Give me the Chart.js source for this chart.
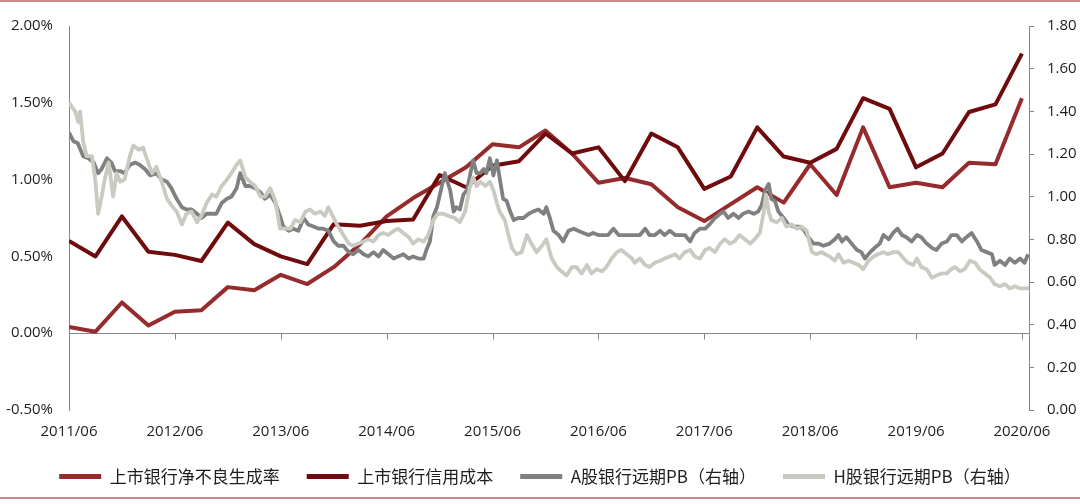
<!DOCTYPE html>
<html>
<head>
<meta charset="utf-8">
<script src="https://cdn.jsdelivr.net/npm/chart.js@4/dist/chart.umd.min.js"></script>
<style>
  html, body { margin: 0; padding: 0; background: #fff; }
</style>
</head>
<body>
<canvas id="chart" width="1080" height="504"></canvas>
<script>
"use strict";

// x axis is "months since 2011/06"
const TICK_MONTHS = [0, 12, 24, 36, 48, 60, 72, 84, 96, 108];
const TICK_LABELS = ["2011/06", "2012/06", "2013/06", "2014/06", "2015/06",
                     "2016/06", "2017/06", "2018/06", "2019/06", "2020/06"];

// quarterly bank series (%)
const Q_MONTHS = [0, 3, 6, 9, 12, 15, 18, 21, 24, 27, 30, 33, 36, 39, 42, 45, 48, 51, 54,
                  57, 60, 63, 66, 69, 72, 75, 78, 81, 84, 87, 90, 93, 96, 99, 102, 105, 108];
const NPL_RATE = [0.04, 0.01, 0.20, 0.05, 0.14, 0.15, 0.30, 0.28, 0.38, 0.32, 0.43, 0.58, 0.76,
                  0.88, 0.98, 1.08, 1.23, 1.21, 1.32, 1.17, 0.98, 1.01, 0.97, 0.82, 0.73, 0.84,
                  0.95, 0.85, 1.10, 0.90, 1.34, 0.95, 0.98, 0.95, 1.11, 1.10, 1.53];
const CREDIT_COST = [0.60, 0.50, 0.76, 0.53, 0.51, 0.47, 0.72, 0.58, 0.50, 0.45, 0.71, 0.70, 0.73,
                     0.74, 1.03, 0.95, 1.09, 1.12, 1.30, 1.17, 1.21, 0.99, 1.30, 1.21, 0.94, 1.02,
                     1.34, 1.15, 1.11, 1.20, 1.53, 1.46, 1.08, 1.17, 1.44, 1.49, 1.82];

// forward PB, [month, value] (right axis)
const A_PB = [[0,1.30],[0.5,1.26],[1.0,1.25],[1.6,1.19],[2.2,1.18],[2.8,1.16],[3.3,1.11],[3.7,1.13],
  [4.3,1.18],[4.8,1.16],[5.2,1.12],[5.8,1.12],[6.3,1.11],[6.9,1.15],[7.5,1.16],[8.0,1.15],[8.6,1.13],
  [9.2,1.10],[9.9,1.11],[10.5,1.08],[11.1,1.07],[11.6,1.04],[12.2,0.99],[12.8,0.95],[13.3,0.94],
  [13.9,0.94],[14.5,0.92],[15.0,0.90],[15.6,0.92],[16.2,0.92],[16.7,0.92],[17.3,0.97],[17.9,0.99],
  [18.4,1.00],[19.0,1.04],[19.4,1.11],[20.0,1.05],[20.5,1.05],[21.1,1.04],[21.7,1.02],[22.2,0.99],
  [22.8,1.01],[23.4,0.97],[23.9,0.91],[24.3,0.86],[24.9,0.84],[25.4,0.85],[26.0,0.84],[26.6,0.90],
  [27.1,0.87],[27.7,0.86],[28.3,0.85],[28.8,0.85],[29.4,0.84],[30.0,0.79],[30.5,0.77],[31.1,0.77],
  [31.7,0.74],[32.2,0.73],[32.8,0.75],[33.4,0.73],[33.9,0.72],[34.5,0.74],[35.1,0.72],[35.6,0.75],
  [36.2,0.73],[36.8,0.71],[37.3,0.72],[37.9,0.73],[38.5,0.71],[39.0,0.72],[39.6,0.71],[40.2,0.71],
  [40.5,0.75],[40.9,0.79],[41.3,0.91],[41.7,0.95],[42.2,1.04],[42.6,1.11],[43.2,1.03],[43.6,0.93],
  [43.9,0.95],[44.3,0.94],[44.7,1.01],[45.1,1.03],[45.4,1.09],[45.8,1.17],[46.2,1.11],[46.6,1.11],
  [47.0,1.13],[47.3,1.11],[47.7,1.18],[48.1,1.10],[48.5,1.17],[48.8,1.09],[49.2,0.99],[49.6,0.98],
  [50.0,0.93],[50.4,0.89],[50.9,0.90],[51.5,0.90],[52.1,0.92],[52.6,0.93],[53.2,0.94],[53.8,0.92],
  [54.1,0.95],[54.5,0.90],[54.9,0.84],[55.5,0.82],[56.0,0.79],[56.6,0.84],[57.2,0.85],[57.7,0.84],
  [58.3,0.83],[58.9,0.82],[59.4,0.83],[60.0,0.82],[60.6,0.82],[61.1,0.82],[61.7,0.85],[62.3,0.82],
  [62.8,0.82],[63.4,0.82],[64.1,0.82],[64.7,0.82],[65.3,0.85],[65.8,0.82],[66.4,0.82],[67.0,0.84],
  [67.5,0.82],[68.1,0.84],[68.7,0.82],[69.2,0.82],[69.8,0.82],[70.4,0.79],[70.9,0.83],[71.5,0.85],
  [72.1,0.85],[72.6,0.87],[73.2,0.90],[73.8,0.92],[74.2,0.93],[74.7,0.90],[75.3,0.92],[75.9,0.90],
  [76.4,0.92],[77.0,0.93],[77.6,0.92],[78.1,0.93],[78.5,0.96],[78.9,1.03],[79.3,1.06],[79.6,0.99],
  [80.0,0.98],[80.4,0.93],[81.0,0.90],[81.5,0.87],[82.1,0.86],[82.7,0.86],[83.2,0.85],[83.8,0.81],
  [84.4,0.78],[84.9,0.78],[85.5,0.77],[86.2,0.78],[86.8,0.80],[87.2,0.82],[87.6,0.79],[88.1,0.81],
  [88.7,0.78],[89.3,0.75],[89.8,0.74],[90.2,0.71],[90.8,0.74],[91.3,0.76],[91.9,0.78],[92.3,0.82],
  [92.9,0.80],[93.4,0.83],[93.9,0.85],[94.4,0.82],[94.9,0.81],[95.5,0.79],[96.1,0.82],[96.6,0.81],
  [97.2,0.78],[97.8,0.76],[98.3,0.75],[98.9,0.78],[99.5,0.79],[100.0,0.82],[100.6,0.82],[101.2,0.79],
  [101.7,0.81],[102.3,0.83],[102.9,0.79],[103.4,0.75],[104.0,0.74],[104.6,0.73],[104.9,0.68],
  [105.5,0.70],[106.1,0.68],[106.6,0.71],[107.2,0.69],[107.8,0.71],[108.3,0.69],[108.7,0.73]];

const H_PB = [[0,1.44],[0.7,1.40],[1.05,1.35],[1.25,1.40],[1.6,1.26],[2.0,1.19],[2.6,1.19],[3.0,1.07],
  [3.3,0.92],[3.7,1.00],[4.1,1.09],[4.5,1.16],[5.0,1.00],[5.4,1.11],[5.8,1.07],[6.3,1.08],[6.9,1.19],
  [7.3,1.24],[7.9,1.22],[8.4,1.23],[8.8,1.18],[9.4,1.11],[9.9,1.14],[10.5,1.07],[11.1,0.99],[11.6,0.96],
  [12.2,0.93],[12.8,0.87],[13.3,0.92],[13.9,0.93],[14.5,0.88],[15.0,0.91],[15.6,0.97],[16.2,1.01],
  [16.7,1.00],[17.3,1.05],[17.9,1.08],[18.4,1.11],[19.0,1.15],[19.4,1.17],[20.0,1.09],[20.5,1.07],
  [21.1,1.05],[21.7,1.00],[22.2,1.00],[22.8,1.04],[23.4,0.98],[23.9,0.85],[24.5,0.85],[25.1,0.85],
  [25.6,0.89],[26.2,0.88],[26.8,0.93],[27.3,0.94],[27.9,0.92],[28.5,0.93],[29.0,0.91],[29.4,0.95],
  [30.0,0.90],[30.5,0.86],[31.1,0.82],[31.7,0.78],[32.2,0.77],[32.8,0.78],[33.4,0.79],[33.9,0.80],
  [34.5,0.79],[35.1,0.82],[35.6,0.83],[36.2,0.82],[36.8,0.84],[37.3,0.85],[37.9,0.83],[38.5,0.81],
  [39.0,0.78],[39.6,0.80],[40.2,0.79],[40.7,0.82],[41.3,0.89],[41.8,0.92],[42.4,0.92],[43.0,0.91],
  [43.7,0.90],[44.3,0.88],[44.9,0.93],[45.4,1.04],[45.8,1.09],[46.2,1.05],[46.6,1.07],[47.2,1.05],
  [47.7,1.07],[48.1,1.03],[48.5,0.97],[48.8,0.93],[49.4,0.89],[49.8,0.82],[50.2,0.76],[50.7,0.73],
  [51.3,0.74],[51.9,0.82],[52.4,0.78],[53.0,0.74],[53.6,0.77],[54.1,0.80],[54.7,0.71],[55.3,0.67],
  [55.8,0.65],[56.4,0.63],[57.0,0.67],[57.5,0.67],[58.1,0.64],[58.7,0.68],[59.2,0.64],[59.8,0.66],
  [60.4,0.65],[60.9,0.67],[61.5,0.71],[62.1,0.74],[62.6,0.75],[63.2,0.73],[63.8,0.71],[64.1,0.69],
  [64.7,0.71],[65.3,0.68],[65.8,0.67],[66.4,0.69],[67.0,0.70],[67.5,0.71],[68.1,0.72],[68.7,0.73],
  [69.2,0.71],[69.8,0.74],[70.4,0.75],[70.9,0.72],[71.5,0.71],[72.1,0.75],[72.6,0.76],[73.2,0.74],
  [73.8,0.78],[74.3,0.80],[74.9,0.78],[75.4,0.79],[76.0,0.82],[76.6,0.80],[77.2,0.78],[77.7,0.80],
  [78.3,0.83],[78.7,0.92],[79.0,1.01],[79.3,0.93],[79.6,0.89],[80.2,0.88],[80.8,0.90],[81.3,0.86],
  [81.9,0.87],[82.5,0.85],[83.0,0.86],[83.6,0.84],[84.2,0.74],[84.7,0.73],[85.3,0.74],[85.7,0.73],
  [86.2,0.72],[86.8,0.70],[87.2,0.73],[87.8,0.69],[88.3,0.70],[88.9,0.69],[89.5,0.68],[90.0,0.66],
  [90.6,0.70],[91.2,0.72],[91.7,0.73],[92.3,0.74],[92.8,0.73],[93.4,0.74],[94.0,0.74],[94.6,0.71],
  [95.1,0.69],[95.7,0.68],[96.1,0.71],[96.6,0.67],[97.2,0.66],[97.8,0.62],[98.3,0.63],[98.9,0.64],
  [99.5,0.64],[100.0,0.66],[100.4,0.67],[101.0,0.65],[101.5,0.66],[102.1,0.70],[102.7,0.69],
  [103.2,0.66],[103.8,0.64],[104.4,0.62],[104.9,0.59],[105.5,0.58],[106.1,0.59],[106.6,0.57],
  [107.2,0.58],[107.8,0.57],[108.3,0.57],[108.8,0.57]];

const AXIS = "#868686";
const TEXT = "#1e1e1e";
const NUM_FONT = { family: "'Open Sans', sans-serif", size: 15 };
const CJK_FONT = { family: "'Noto Sans CJK SC', sans-serif", size: 17 };

const pairs = (xs, ys) => xs.map((x, i) => ({ x, y: ys[i] }));
const pts = (arr) => arr.map(([x, y]) => ({ x, y }));

// pink frame lines at the very top and bottom of the image
const frame = {
  id: "frame",
  beforeDraw(chart) {
    const { ctx, width, height } = chart;
    ctx.save();
    ctx.fillStyle = "#fff";
    ctx.fillRect(0, 0, width, height);
    ctx.strokeStyle = "#c58b8b";
    ctx.lineWidth = 2;
    ctx.beginPath();
    ctx.moveTo(0, 1); ctx.lineTo(width, 1);
    ctx.moveTo(0, 498); ctx.lineTo(width, 498);
    ctx.stroke();
    ctx.restore();
  },
};

// category axis line sits on 0% of the left axis, labels stay at the bottom
const zeroAxis = {
  id: "zeroAxis",
  beforeDatasetsDraw(chart) {
    const { ctx, chartArea: { left, right }, scales: { x, y } } = chart;
    const y0 = Math.round(y.getPixelForValue(0)) + 0.5;
    ctx.save();
    ctx.strokeStyle = AXIS; ctx.lineWidth = 1;
    ctx.beginPath();
    ctx.moveTo(left, y0); ctx.lineTo(right, y0);
    x.ticks.forEach((t) => {
      const px = Math.round(x.getPixelForValue(t.value)) + 0.5;
      ctx.moveTo(px, y0); ctx.lineTo(px, y0 + 6);
    });
    ctx.stroke();
    ctx.restore();
  },
};

const line = (label, data, color, width, axis, order) => ({
  label, data, yAxisID: axis, order,
  borderColor: color, backgroundColor: color, borderWidth: width,
  pointRadius: 0, tension: 0, fill: false, borderJoinStyle: "round",
});

new Chart(document.getElementById("chart"), {
  type: "line",
  data: {
    datasets: [
      line("上市银行净不良生成率", pairs(Q_MONTHS, NPL_RATE), "#952b2c", 4, "y", 4),
      line("上市银行信用成本", pairs(Q_MONTHS, CREDIT_COST), "#6f0b0d", 4, "y", 3),
      line("A股银行远期PB（右轴）", pts(A_PB), "#808080", 3.8, "y2", 2),
      line("H股银行远期PB（右轴）", pts(H_PB), "#cacac2", 3.8, "y2", 1),
    ],
  },
  plugins: [frame, zeroAxis],
  options: {
    responsive: false, animation: false,
    layout: { padding: { top: 26, bottom: 9, left: 0, right: 0 } },
    scales: {
      x: {
        type: "linear", min: 0, max: 108.8,
        afterBuildTicks: (s) => { s.ticks = TICK_MONTHS.map((v) => ({ value: v })); },
        afterFit: (s) => { s.height = 31; },
        ticks: { callback: (v, i) => TICK_LABELS[i], autoSkip: false, maxRotation: 0,
                 padding: 5, color: TEXT, font: NUM_FONT },
        grid: { display: false }, border: { display: false },
      },
      y: {
        position: "left", min: -0.5, max: 2.0,
        afterFit: (s) => { s.width = 69; },
        ticks: { stepSize: 0.5, callback: (v) => v.toFixed(2) + "%", padding: 8,
                 color: TEXT, font: NUM_FONT },
        grid: { display: false }, border: { display: true, color: AXIS, width: 1 },
      },
      y2: {
        position: "right", min: 0, max: 1.8,
        afterFit: (s) => { s.width = 51; },
        ticks: { stepSize: 0.2, callback: (v) => v.toFixed(2), padding: 13,
                 color: TEXT, font: NUM_FONT },
        grid: { display: true, drawOnChartArea: false, drawTicks: true, tickLength: 5, color: AXIS },
        border: { display: true, color: AXIS, width: 1 },
      },
    },
    plugins: {
      legend: {
        position: "bottom",
        labels: {
          boxWidth: 42, boxHeight: 5, padding: 27, color: TEXT, font: CJK_FONT,
          sort: (a, b) => a.datasetIndex - b.datasetIndex,
          generateLabels: (chart) => Chart.defaults.plugins.legend.labels
            .generateLabels(chart).map((l) => ({ ...l, lineWidth: 0 })),
        },
      },
      tooltip: { enabled: false },
    },
  },
});
</script>
</body>
</html>
